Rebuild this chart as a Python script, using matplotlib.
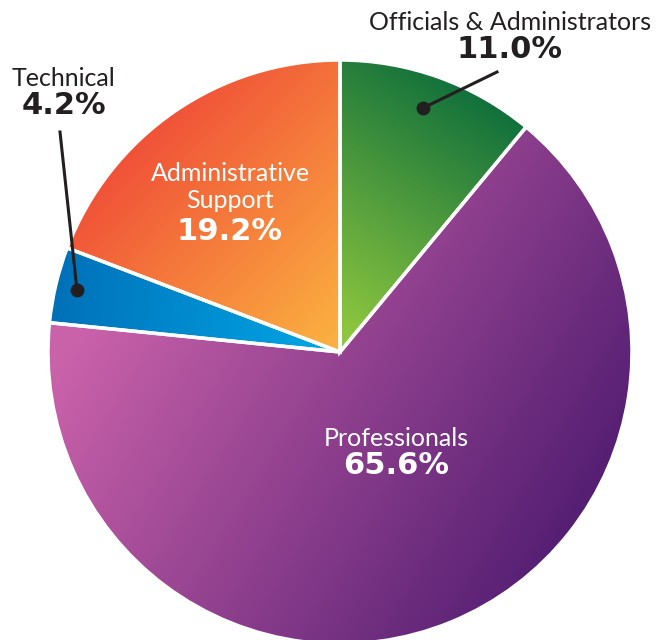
import numpy as np
import matplotlib
matplotlib.use('Agg')
import matplotlib.pyplot as plt
from matplotlib.colors import LinearSegmentedColormap

# slice data, clockwise from 12 o'clock
categories = ['Officials & Administrators', 'Professionals', 'Technical', 'Administrative\nSupport']
shares = [11.0, 65.6, 4.2, 19.2]

# gradient colour pairs (start, end) for every slice
grad_colors = [('#8dc63f', '#0a6b3b'),
               ('#ca62aa', '#4d1a6f'),
               ('#0070b8', '#00a6e6'),
               ('#ee3e36', '#fbaf40')]
# gradient direction in pixel coords (x0, y0) -> (x1, y1), y from top
grad_dirs = [((345, 330), (500, 90)),
             ((80, 330), (560, 620)),
             ((50, 300), (330, 340)),
             ((90, 110), (330, 340))]

W, H = 661, 640
cx, cy, R = 340, 352, 292

fig = plt.figure(figsize=(W / 100, H / 100), dpi=100)
ax = fig.add_axes([0, 0, 1, 1])

wedges, _ = ax.pie(shares, startangle=90, counterclock=False, radius=R,
                   center=(cx, H - cy),
                   wedgeprops=dict(edgecolor='white', linewidth=2.5, facecolor='none'))

xx, yy = np.meshgrid(np.arange(W) + 0.5, np.arange(H) + 0.5)  # yy from top
for w, (c0, c1), ((x0, y0), (x1, y1)) in zip(wedges, grad_colors, grad_dirs):
    dx, dy = x1 - x0, y1 - y0
    t = ((xx - x0) * dx + (yy - y0) * dy) / (dx * dx + dy * dy)
    t = np.clip(t, 0, 1)
    cmap = LinearSegmentedColormap.from_list('g', [c0, c1])
    im = ax.imshow(t, cmap=cmap, vmin=0, vmax=1, extent=[0, W, 0, H],
                   origin='upper', interpolation='bilinear', zorder=1)
    im.set_clip_path(w)
    w.set_zorder(2)

ax.set_xlim(0, W)
ax.set_ylim(0, H)
ax.set_aspect('equal')
ax.axis('off')

light = dict(family=['Lato', 'DejaVu Sans'], fontweight='normal', fontsize=18,
             ha='center', va='center')
heavy = dict(family=['DejaVu Sans'], fontweight='bold', fontsize=22,
             ha='center', va='center')

def label(x, y, name, pct, color, gap=28):
    ax.text(x, H - y, name, color=color, zorder=5, **light)
    n = name.count('\n')
    ax.text(x, H - y - gap - n * 14, pct, color=color, zorder=5, **heavy)

label(510, 22, categories[0], '%.1f%%' % shares[0], '#231f20')
label(396, 438, categories[1], '%.1f%%' % shares[1], 'white')
label(64, 78, categories[2], '%.1f%%' % shares[2], '#231f20')
label(230, 187, categories[3], '%.1f%%' % shares[3], 'white', gap=30)

# leader lines
ax.plot([423, 497], [H - 108, H - 72], color='#231f20', lw=2.2, zorder=6)
ax.plot([423], [H - 108], 'o', color='#231f20', ms=9, zorder=6)
ax.plot([60, 77], [H - 132, H - 290], color='#231f20', lw=2.2, zorder=6)
ax.plot([77], [H - 290], 'o', color='#231f20', ms=9, zorder=6)

fig.savefig('out.png', dpi=100)
